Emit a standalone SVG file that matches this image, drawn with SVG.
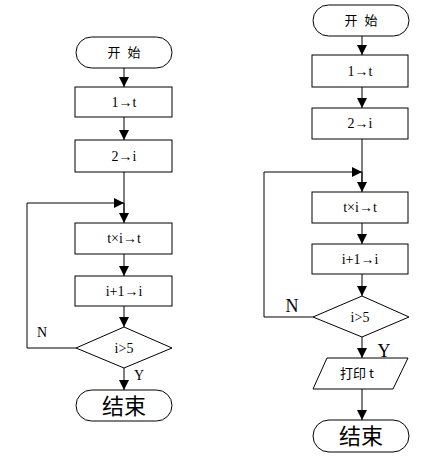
<svg xmlns="http://www.w3.org/2000/svg" width="437" height="461" viewBox="0 0 437 461">
<defs>
<marker id="ah" viewBox="0 0 10 10" refX="10" refY="5" markerWidth="10" markerHeight="10" markerUnits="userSpaceOnUse" orient="auto">
<path d="M0,0 L10,5 L0,10 Z" fill="#000"/>
</marker>
</defs>
<style>
.s{fill:#fff;stroke:#000;stroke-width:1}
.t{font-family:"Liberation Serif","Noto Sans CJK SC",serif;font-size:14px;text-anchor:middle;fill:#000}
.c{font-family:"Noto Sans CJK SC","Liberation Serif",sans-serif;font-size:13px;text-anchor:middle;fill:#000}
.big{font-family:"Noto Sans CJK SC",sans-serif;font-size:22px;text-anchor:middle;fill:#000}
.l{fill:none;stroke:#000;stroke-width:1}
.a{fill:none;stroke:#000;stroke-width:1;marker-end:url(#ah)}
</style>
<rect width="437" height="461" fill="#fff"/>
<g id="connectors">
<path class="a" d="M124,68 V87"/>
<path class="a" d="M124,117 V140"/>
<path class="l" d="M124,172 V213"/>
<path class="a" d="M124,203 V223"/>
<path class="a" d="M27,203 H124"/>
<path class="a" d="M124,254 V276"/>
<path class="a" d="M124,306 V327"/>
<path class="l" d="M76,348 H27 V203" stroke-width="1.5"/>
<path class="a" d="M124,368 V390"/>
<path class="a" d="M362,36 V55"/>
<path class="a" d="M362,87 V108"/>
<path class="l" d="M362,139 V182"/>
<path class="a" d="M362,172 V192"/>
<path class="a" d="M264,172 H362"/>
<path class="a" d="M362,223 V244"/>
<path class="a" d="M362,274 V296"/>
<path class="l" d="M313,317 H264 V172"/>
<path class="a" d="M362,337 V358"/>
<path class="a" d="M362,389 V420"/>
</g>
<g id="start1"><rect class="s" x="76" y="37" width="96" height="31" rx="15.5"/><text class="c" x="124" y="57" style="word-spacing:4px">开 始</text></g>
<g id="box1a"><rect class="s" x="75" y="87" width="97" height="30"/><text class="t" x="124" y="107">1→t</text></g>
<g id="box1b"><rect class="s" x="75" y="140" width="97" height="32"/><text class="t" x="124" y="161">2→i</text></g>
<g id="box1c"><rect class="s" x="75" y="223" width="97" height="31"/><text class="t" x="124" y="243">t×i→t</text></g>
<g id="box1d"><rect class="s" x="75" y="276" width="97" height="30"/><text class="t" x="124" y="296">i+1→i</text></g>
<g id="dec1"><polygon class="s" points="124,327 172,348 124,368 76,348"/><text class="t" x="124" y="353">i&gt;5</text></g>
<text class="t" x="42" y="337">N</text>
<text class="t" x="139" y="380">Y</text>
<g id="end1"><rect class="s" x="76" y="390" width="96" height="31" rx="15.5"/><text class="big" x="124" y="414">结束</text></g>
<g id="start2"><rect class="s" x="313" y="5" width="96" height="31" rx="15.5"/><text class="c" x="361" y="25" style="word-spacing:4px">开 始</text></g>
<g id="box2a"><rect class="s" x="312" y="55" width="96" height="32"/><text class="t" x="360" y="76">1→t</text></g>
<g id="box2b"><rect class="s" x="312" y="108" width="96" height="31"/><text class="t" x="360" y="128">2→i</text></g>
<g id="box2c"><rect class="s" x="312" y="192" width="96" height="31"/><text class="t" x="360" y="212">t×i→t</text></g>
<g id="box2d"><rect class="s" x="312" y="244" width="96" height="30"/><text class="t" x="360" y="264">i+1→i</text></g>
<g id="dec2"><polygon class="s" points="362,296 409,317 362,337 313,317"/><text class="t" x="360" y="322">i&gt;5</text></g>
<text class="t" x="292" y="312" style="font-size:18px">N</text>
<text class="t" x="384" y="357" style="font-size:18px">Y</text>
<g id="print2"><polygon class="s" points="327,358 408,358 393,389 313,389"/><text class="c" x="357" y="378">打印 t</text></g>
<g id="end2"><rect class="s" x="313" y="420" width="96" height="32" rx="16"/><text class="big" x="361" y="444">结束</text></g>
</svg>
